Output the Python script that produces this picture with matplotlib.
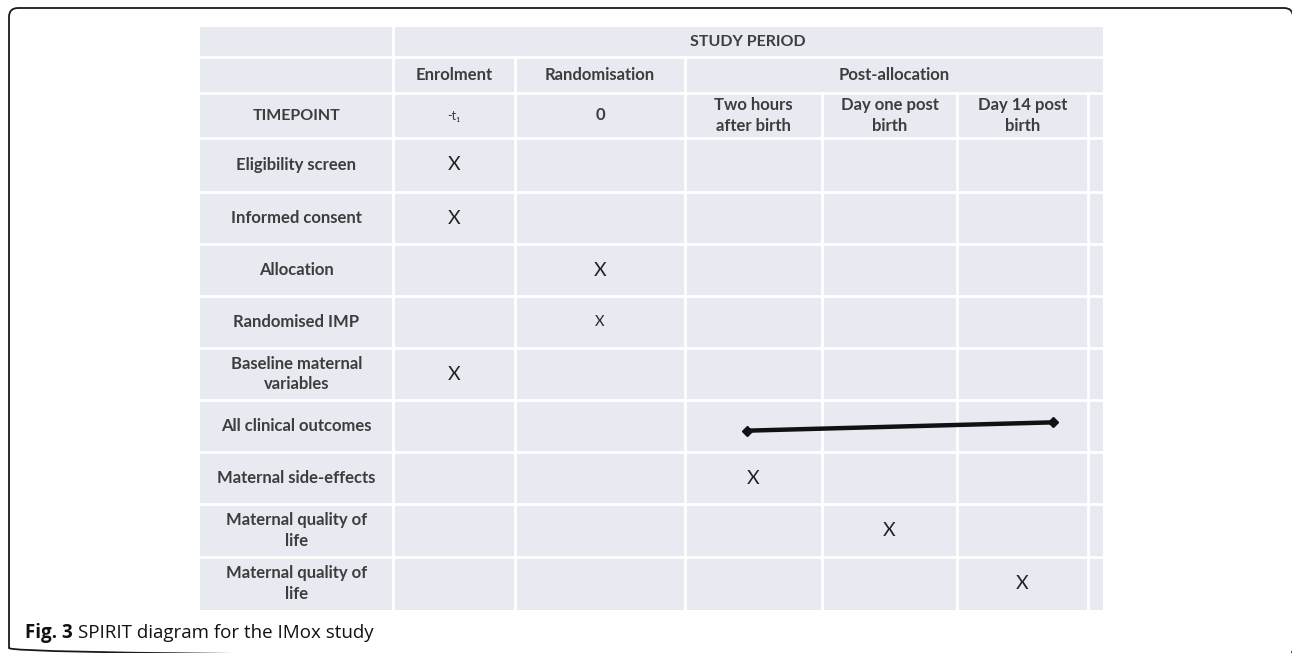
import numpy as np
import matplotlib.pyplot as plt
from matplotlib.patches import Rectangle, FancyBboxPatch

# table content
phases = ["Enrolment", "Randomisation", "Post-allocation"]
phase_span = [(0, 1), (1, 2), (2, 6)]          # column index range per phase (last col is the narrow spare one)
timepoints = ["-t\u2081", "0", "Two hours\nafter birth", "Day one post\nbirth", "Day 14 post\nbirth"]
activities = ["Eligibility screen", "Informed consent", "Allocation", "Randomised IMP",
              "Baseline maternal\nvariables", "All clinical outcomes", "Maternal side-effects",
              "Maternal quality of\nlife", "Maternal quality of\nlife"]

# X marks: (activity index, timepoint index, size)
mark_rows = [0, 1, 2, 3, 4, 6, 7, 8]
mark_cols = [0, 0, 1, 1, 0, 2, 3, 4]
mark_size = [14, 14, 14, 10.5, 14, 14, 14, 14]

# continuous assessment line for "All clinical outcomes" (column units, row fraction)
span_row = 5
span_x = [2.45, 4.73]
span_y = [0.59, 0.43]

# layout in pixels
col_edges = [393, 515, 685, 822, 957, 1088, 1103]
label_x0 = 200
head_edges = [27, 57, 93, 138]
row_edges = [138, 192, 244, 296, 348, 400, 452, 504, 557, 610]

fill = "#e8eaf2"
txt = "#3d3d3d"
font = ["Lato", "DejaVu Sans"]

fig = plt.figure(figsize=(12.92, 6.53), dpi=100)
ax = fig.add_axes([0, 0, 1, 1])
ax.set_xlim(0, 1292)
ax.set_ylim(653, 0)
ax.axis("off")

# outer frame (runs off the right and bottom edges)
ax.add_patch(FancyBboxPatch((9, 8), 1284, 649, boxstyle="round,pad=0,rounding_size=9",
                            fill=False, ec="#1a1a1a", lw=1.3, clip_on=True))

# table background + white grid
ax.add_patch(Rectangle((label_x0, head_edges[0]), col_edges[-1] - label_x0,
                       row_edges[-1] - head_edges[0], fc=fill, ec="none"))
for y in head_edges[1:] + row_edges[1:-1]:
    ax.plot([label_x0, col_edges[-1]], [y, y], color="white", lw=2)
ax.plot([col_edges[0]] * 2, [head_edges[0], row_edges[-1]], color="white", lw=2)
for x in col_edges[1:3]:
    ax.plot([x, x], [head_edges[1], row_edges[-1]], color="white", lw=2)
for x in col_edges[3:-1]:
    ax.plot([x, x], [head_edges[2], row_edges[-1]], color="white", lw=2)


def cx(v):
    return np.interp(v, range(len(col_edges)), col_edges)


def ry(r, frac=0.5):
    return row_edges[r] + frac * (row_edges[r + 1] - row_edges[r])


label_cx = (label_x0 + col_edges[0]) / 2
kw = dict(ha="center", va="center", color=txt, family=font, fontsize=12,
          fontweight="bold", linespacing=1.35)

# header rows
ax.text((col_edges[0] + col_edges[-1]) / 2, sum(head_edges[0:2]) / 2, "STUDY PERIOD",
        **{**kw, "fontsize": 11.5})
for name, (a, b) in zip(phases, phase_span):
    ax.text((cx(a) + cx(b)) / 2, sum(head_edges[1:3]) / 2, name, **kw)
ax.text(label_cx, sum(head_edges[2:4]) / 2, "TIMEPOINT", **{**kw, "fontsize": 11.5})
for i, tp in enumerate(timepoints):
    if i == 0:
        ax.text(cx(i + 0.5), sum(head_edges[2:4]) / 2, tp, **{**kw, "fontsize": 9, "fontweight": "normal"})
    else:
        ax.text(cx(i + 0.5), sum(head_edges[2:4]) / 2, tp, **kw)

# activity rows
for r, name in enumerate(activities):
    ax.text(label_cx, ry(r), name, **kw)

for r, c, s in zip(mark_rows, mark_cols, mark_size):
    ax.text(cx(c + 0.5), ry(r), "X", **{**kw, "fontsize": s, "fontweight": "normal", "color": "#222222"})

ax.plot(cx(np.array(span_x)), [ry(span_row, f) for f in span_y], color="#111111", lw=3.2,
        marker="D", markersize=5, solid_capstyle="round")

# caption
fig.canvas.draw()
t1 = ax.text(25, 633, "Fig. 3", fontsize=13.5, fontweight="bold", family="Open Sans",
             color="#111111", va="center")
bb = t1.get_window_extent(fig.canvas.get_renderer())
x_end = ax.transData.inverted().transform((bb.x1, bb.y0))[0]
ax.text(x_end + 5, 633, "SPIRIT diagram for the IMox study", fontsize=13.5, family="Open Sans",
        color="#111111", va="center")

fig.savefig("out.png", dpi=100)
